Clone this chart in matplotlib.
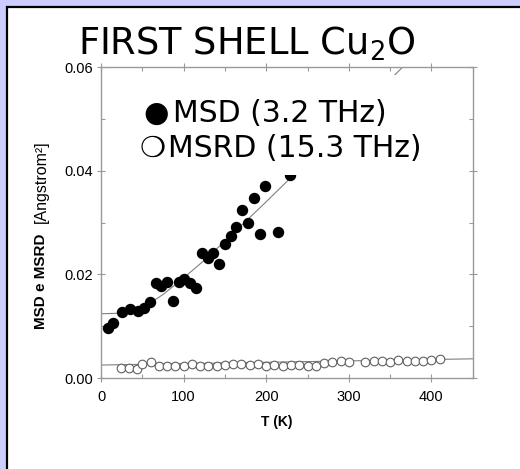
import matplotlib.pyplot as plt
from matplotlib.patches import Rectangle
from matplotlib.ticker import MultipleLocator, FormatStrFormatter

# MSD (filled)
msd_T = [9, 15, 25, 35, 45, 52, 59, 67, 73, 80, 87, 94, 101, 108, 115,
         122, 129, 136, 143, 150, 157, 164, 171, 178, 185, 192, 199, 214, 229]
msd_val = [0.0097, 0.0107, 0.0127, 0.0134, 0.0130, 0.0136, 0.0147, 0.0183,
           0.0178, 0.0186, 0.0149, 0.0186, 0.0191, 0.0183, 0.0174, 0.0241,
           0.0231, 0.0241, 0.0220, 0.0259, 0.0274, 0.0292, 0.0324, 0.0299,
           0.0348, 0.0278, 0.0370, 0.0281, 0.0392]

# MSRD (open)
msrd_T = [24, 34, 44, 50, 60, 70, 80, 90, 100, 110, 120, 130, 140, 150, 160,
          170, 180, 190, 200, 210, 220, 230, 240, 250, 260, 270, 280, 290,
          300, 320, 330, 340, 350, 360, 370, 380, 390, 400, 410]
msrd_val = [0.0020, 0.0020, 0.0018, 0.0027, 0.0030, 0.0024, 0.0024, 0.0024,
            0.0024, 0.0027, 0.0024, 0.0023, 0.0023, 0.0025, 0.0027, 0.0027,
            0.0026, 0.0027, 0.0023, 0.0026, 0.0024, 0.0025, 0.0025, 0.0024,
            0.0024, 0.0028, 0.0030, 0.0033, 0.0030, 0.0030, 0.0033, 0.0033,
            0.0031, 0.0034, 0.0032, 0.0033, 0.0033, 0.0035, 0.0036]

# fitted curves
fit_msd_T = [0, 25, 50, 60, 75, 90, 100, 125, 150, 175, 200, 250, 300, 350, 375]
fit_msd_val = [0.0124, 0.0125, 0.0137, 0.0145, 0.0161, 0.0180, 0.0193, 0.0227,
               0.0264, 0.0302, 0.0340, 0.0418, 0.0497, 0.0576, 0.0615]
fit_msrd_T = [0, 450]
fit_msrd_val = [0.0025, 0.0037]

W, H = 520, 469
fig = plt.figure(figsize=(W / 100, H / 100), dpi=100, facecolor='#ccccff')

# white slide panel with dark border
fig.patches.append(Rectangle((7 / W, -0.1), 1.2, 1.1 - 7 / H, transform=fig.transFigure,
                             facecolor='white', edgecolor='black', lw=1.6, zorder=-10))

ax = fig.add_axes([101 / W, 1 - 378 / H, 371.7 / W, 311 / H])
ax.set_facecolor('white')

ax.plot(fit_msd_T, fit_msd_val, color='#808080', lw=0.8, zorder=2)
ax.plot(fit_msrd_T, fit_msrd_val, color='#808080', lw=0.8, zorder=2)
ax.plot(msd_T, msd_val, 'o', color='black', ms=7.2, zorder=3)
ax.plot(msrd_T, msrd_val, 'o', mfc='white', mec='#606060', mew=0.8, ms=6.2, zorder=3)

ax.set_xlim(0, 450)
ax.set_ylim(0, 0.06)
ax.xaxis.set_major_locator(MultipleLocator(100))
ax.xaxis.set_minor_locator(MultipleLocator(50))
ax.yaxis.set_major_locator(MultipleLocator(0.02))
ax.yaxis.set_minor_locator(MultipleLocator(0.01))
ax.yaxis.set_major_formatter(FormatStrFormatter('%.2f'))

for s in ax.spines.values():
    s.set_color('#999999')
    s.set_linewidth(1.0)
ax.tick_params(which='both', top=True, right=True, color='#999999', width=0.8)
ax.tick_params(which='major', direction='inout', length=6, labelsize=10.5, pad=3,
               labelfontfamily='Liberation Sans')
ax.tick_params(axis='x', which='major', pad=5.5)
ax.tick_params(which='minor', direction='in', length=3)

# legend box covering the plot
ax.add_patch(Rectangle((0.078, 0.653), 0.76, 0.321, transform=ax.transAxes,
                       facecolor='white', edgecolor='none', zorder=4))
fig.text(143 / W, 1 - 121.7 / H, '\u25cf', fontsize=21, family='DejaVu Sans', va='baseline')
fig.text(173 / W, 1 - 121.7 / H, 'MSD (3.2 THz)', fontsize=21.5, family='DejaVu Sans', va='baseline')
fig.text(140 / W, 1 - 156.7 / H, '\u274d', fontsize=21, family='DejaVu Sans', va='baseline')
fig.text(168 / W, 1 - 156.7 / H, 'MSRD (15.3 THz)', fontsize=21.5, family='DejaVu Sans', va='baseline')

# title
plt.rcParams['mathtext.fontset'] = 'dejavusans'
fig.text(78 / W, 1 - 55 / H, r'FIRST SHELL Cu$_2$O', fontsize=26.5, family='DejaVu Sans', va='baseline')

# axis labels
fig.text(41 / W, 1 - 281 / H, 'MSD e MSRD', rotation=90, fontsize=11, fontweight='bold',
         family='Liberation Sans', ha='center', va='center')
fig.text(41 / W, 1 - 182 / H, '[Angstrom\u00b2]', rotation=90, fontsize=11.5,
         family='Liberation Sans', ha='center', va='center')
fig.text(277 / W, 1 - 422 / H, 'T (K)', fontsize=10, fontweight='bold',
         family='Liberation Sans', ha='center', va='center')

fig.savefig('out.png', dpi=100, facecolor=fig.get_facecolor())
